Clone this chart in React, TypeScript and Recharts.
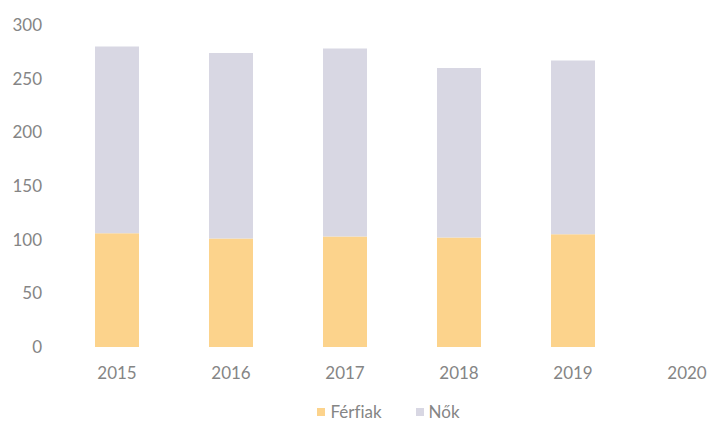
import { BarChart, Bar, XAxis, YAxis, Legend } from 'recharts';

const years = ['2015', '2016', '2017', '2018', '2019', '2020'];
const ferfiak = [106, 101, 103, 102, 105, null];
const nok = [174, 173, 175, 158, 162, null];
const yTicks = [0, 50, 100, 150, 200, 250, 300];

const series = [
    { key: 'ferfiak', name: 'Férfiak', color: '#FCD38C' },
    { key: 'nok', name: 'Nők', color: '#D8D7E3' },
];

const data = years.map((y, i) => ({ year: y, ferfiak: ferfiak[i], nok: nok[i] }));

const font = 'Lato, sans-serif';
const textColor = '#858585';

function LegendContent() {
    return (
        <div style={{ display: 'flex', justifyContent: 'center', gap: 34, paddingLeft: 64, fontFamily: font, fontSize: 17, color: textColor, fontVariantLigatures: 'none' }}>
            {series.map(s => (
                <span key={s.key} style={{ display: 'flex', alignItems: 'center' }}>
                    <span style={{ width: 8, height: 8, background: s.color, marginRight: 5, display: 'inline-block' }} />
                    {s.name}
                </span>
            ))}
        </div>
    );
}

export default function App() {
    return (
        <div style={{ position: 'absolute', left: 0, top: 0, width: 713, height: 424, overflow: 'hidden', background: '#fff' }}>
            <BarChart width={770} height={424} data={data} margin={{ top: 25, right: 26, left: 0, bottom: 26 }}>
                <XAxis
                    dataKey="year"
                    axisLine={false}
                    tickLine={false}
                    tickSize={0}
                    tickMargin={20}
                    height={30}
                    tick={{ fill: textColor, fontSize: 17, fontFamily: font }}
                />
                <YAxis
                    domain={[0, 300]}
                    ticks={yTicks}
                    axisLine={false}
                    tickLine={false}
                    tickSize={0}
                    tickMargin={18}
                    width={60}
                    tick={{ fill: textColor, fontSize: 17, fontFamily: font }}
                />
                <Legend
                    verticalAlign="bottom"
                    content={<LegendContent />}
                    wrapperStyle={{ left: 0, width: 713, bottom: 2 }}
                />
                {series.map(s => (
                    <Bar key={s.key} dataKey={s.key} name={s.name} stackId="a" fill={s.color} barSize={44} isAnimationActive={false} />
                ))}
            </BarChart>
        </div>
    );
}
